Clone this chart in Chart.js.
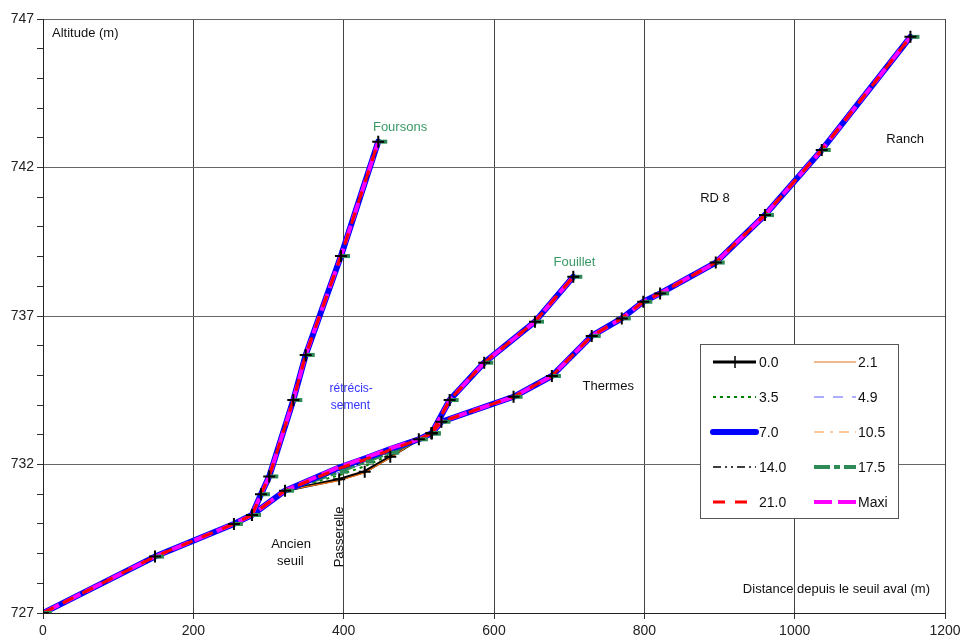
<!DOCTYPE html>
<html>
<head>
<meta charset="utf-8">
<script src="https://cdn.jsdelivr.net/npm/chart.js@4"></script>
<style>
  body { margin: 0; background: #fff; }
  canvas { display: block; }
</style>
</head>
<body>
<canvas id="profil" width="961" height="641"></canvas>
<script>
// Profil en long - niveaux d'eau pour differents debits
const flows = ['0.0', '2.1', '3.5', '4.9', '7.0', '10.5', '14.0', '17.5', '21.0', 'Maxi'];

// tronc commun (aval)
const trunkLowX = [0, 149, 254, 278, 322];
const trunkLowZ = [727, 728.9, 730.0, 730.3, 731.12];
// zone de la passerelle : seule partie ou les debits different
const passX = [394, 428, 462];
const pass00 = [731.5, 731.76, 732.26];
const pass21 = [731.46, 731.72, 732.23];
const pass35 = [731.64, 731.94, 732.33];
const pass49 = [731.74, 732.04, 732.4];
const pass70 = [731.9, 732.2, 732.52];
const pass105 = [731.82, 732.12, 732.45];
const pass140 = [731.79, 732.08, 732.42];
const pass175 = [731.76, 732.1, 732.4];
const pass210 = [731.87, 732.16, 732.49];
const passMaxi = [731.92, 732.22, 732.54];
const trunkUpX = [500, 517];
const trunkUpZ = [732.85, 733.05];

// branches amont
const foursonsX = [278, 290, 301, 333, 349.5, 396.4, 446];
const foursonsZ = [730.3, 731.0, 731.6, 734.17, 735.69, 739.02, 742.87];
const fouilletX = [517, 541, 587, 654.5, 705.5];
const fouilletZ = [733.05, 734.17, 735.43, 736.81, 738.32];
const thermesX = [517, 530, 626, 677, 730, 770, 798.6, 821, 895, 960.5, 1036, 1154];
const thermesZ = [733.05, 733.44, 734.28, 734.98, 736.33, 736.92, 737.48, 737.76, 738.8, 740.4, 742.59, 746.4];

const passBy = {
    '0.0': pass00, '2.1': pass21, '3.5': pass35, '4.9': pass49, '7.0': pass70,
    '10.5': pass105, '14.0': pass140, '17.5': pass175, '21.0': pass210, 'Maxi': passMaxi
};

const styles = {
    '0.0':  { color: '#000000', width: 3,   dash: [] },
    '2.1':  { color: '#e8701a', width: 1.2, dash: [] },
    '3.5':  { color: '#008000', width: 2,   dash: [3, 4] },
    '4.9':  { color: '#5a5aff', width: 1,   dash: [10, 9] },
    '7.0':  { color: '#0000ff', width: 6,   dash: [], cap: 'round' },
    '10.5': { color: '#ffc89a', width: 2,   dash: [10, 6, 3, 6] },
    '14.0': { color: '#000000', width: 1.5, dash: [8, 4, 2, 4, 2, 4] },
    '17.5': { color: '#2e8b57', width: 4,   dash: [16, 4, 6, 4] },
    '21.0': { color: '#ff0000', width: 3,   dash: [12, 10] },
    'Maxi': { color: '#ff00ff', width: 4,   dash: [18, 6] }
};

function branch(xs, zs) {
    return xs.map((x, i) => ({ x: x, y: zs[i] }));
}

function buildPath(flow) {
    const pts = [];
    const gap = () => pts.push({ x: pts[pts.length - 1].x, y: null });
    pts.push(...branch(trunkLowX, trunkLowZ));
    pts.push(...branch(passX, passBy[flow]));
    pts.push(...branch(trunkUpX, trunkUpZ));
    gap();
    pts.push(...branch(foursonsX, foursonsZ));
    gap();
    pts.push(...branch(fouilletX, fouilletZ));
    gap();
    pts.push(...branch(thermesX, thermesZ));
    return pts;
}

function lineSet(flow) {
    const s = styles[flow];
    return {
        label: flow,
        data: buildPath(flow),
        showLine: true,
        spanGaps: false,
        borderColor: s.color,
        backgroundColor: s.color,
        borderWidth: s.width,
        borderDash: s.dash,
        borderCapStyle: s.cap || 'butt',
        borderJoinStyle: 'round',
        pointRadius: 0,
        tension: 0
    };
}

// marqueur vert decale (serie 17.5)
const greenMark = document.createElement('canvas');
greenMark.width = 22;
greenMark.height = 8;
(function () {
    const g = greenMark.getContext('2d');
    g.fillStyle = '#2e8b57';
    g.fillRect(12, 2, 8, 4);
})();

// premier dataset = dessine au-dessus
const drawOrder = ['21.0', 'Maxi', '7.0', '17.5', '14.0', '10.5', '4.9', '3.5', '2.1', '0.0'];
const datasets = [
    {
        label: 'marks 0.0', data: buildPath('0.0'), showLine: false,
        pointStyle: 'cross', pointRadius: 6, borderColor: '#000', borderWidth: 2
    },
    {
        label: 'marks 17.5', data: buildPath('17.5'), showLine: false,
        pointStyle: greenMark, pointRadius: 4
    }
].concat(drawOrder.map(lineSet));

const notes = [
    { text: 'Foursons', x: 475, y: 743.35, color: '#3a9a66' },
    { text: 'Fouillet', x: 707, y: 738.8, color: '#3a9a66' },
    { text: 'Ranch', x: 1147, y: 742.95, color: '#111' },
    { text: 'RD 8', x: 894, y: 740.95, color: '#111' },
    { text: 'Thermes', x: 752, y: 734.63, color: '#111' },
    { text: 'rétrécis-', x: 410, y: 734.55, color: '#3333ff', size: 12 },
    { text: 'sement', x: 409, y: 733.98, color: '#3333ff', size: 12 },
    { text: 'Ancien', x: 330, y: 729.3, color: '#111' },
    { text: 'seuil', x: 329, y: 728.73, color: '#111' }
];

const decorPlugin = {
    id: 'decor',
    afterDraw(chart) {
        const ctx = chart.ctx;
        const xs = chart.scales.x, ys = chart.scales.y;
        const area = chart.chartArea;
        ctx.save();
        ctx.textBaseline = 'middle';

        // titres d'axes
        ctx.font = '13px "Liberation Sans", Arial, sans-serif';
        ctx.fillStyle = '#111';
        ctx.textAlign = 'left';
        ctx.fillText('Altitude (m)', area.left + 9, area.top + 14);
        ctx.textAlign = 'right';
        ctx.fillText('Distance depuis le seuil aval (m)', area.right - 15, area.bottom - 24);

        // etiquettes
        ctx.textAlign = 'center';
        notes.forEach(n => {
            ctx.font = (n.size || 13) + 'px "Liberation Sans", Arial, sans-serif';
            ctx.fillStyle = n.color;
            ctx.fillText(n.text, xs.getPixelForValue(n.x), ys.getPixelForValue(n.y));
        });

        // Passerelle (vertical)
        ctx.save();
        ctx.translate(xs.getPixelForValue(395), ys.getPixelForValue(729.56));
        ctx.rotate(-Math.PI / 2);
        ctx.font = '13px "Liberation Sans", Arial, sans-serif';
        ctx.fillStyle = '#111';
        ctx.fillText('Passerelle', 0, 0);
        ctx.restore();

        // legende
        const bx = 700.5, by = 344.5, bw = 198, bh = 174;
        ctx.fillStyle = '#fff';
        ctx.fillRect(bx, by, bw, bh);
        ctx.strokeStyle = '#555';
        ctx.lineWidth = 1;
        ctx.setLineDash([]);
        ctx.strokeRect(bx, by, bw, bh);

        ctx.font = '14px "Liberation Sans", Arial, sans-serif';
        ctx.textAlign = 'left';
        flows.forEach((f, i) => {
            const col = i % 2, row = Math.floor(i / 2);
            const y = 362 + row * 35;
            const x0 = col === 0 ? 713 : 814;
            const x1 = col === 0 ? 756 : 856;
            const s = styles[f];
            ctx.save();
            ctx.strokeStyle = s.color;
            ctx.lineWidth = s.width;
            ctx.setLineDash(s.dash);
            ctx.lineCap = s.cap || 'butt';
            ctx.beginPath();
            ctx.moveTo(x0, y);
            ctx.lineTo(x1, y);
            ctx.stroke();
            if (f === '0.0') {
                ctx.setLineDash([]);
                ctx.lineWidth = 1.5;
                ctx.beginPath();
                ctx.moveTo(735, y - 6);
                ctx.lineTo(735, y + 6);
                ctx.stroke();
            }
            ctx.restore();
            ctx.fillStyle = '#111';
            ctx.fillText(f, col === 0 ? 759 : 858, y + 1);
        });
        ctx.restore();
    }
};

new Chart(document.getElementById('profil').getContext('2d'), {
    type: 'scatter',
    data: { datasets: datasets },
    options: {
        responsive: false,
        animation: false,
        devicePixelRatio: 1,
        layout: { padding: { top: 19, right: 16, left: 0, bottom: 0 } },
        plugins: {
            legend: { display: false },
            tooltip: { enabled: false }
        },
        scales: {
            x: {
                type: 'linear',
                min: 0,
                max: 1200,
                ticks: {
                    stepSize: 200,
                    color: '#222',
                    padding: 4,
                    font: { family: '"Liberation Sans", Arial, sans-serif', size: 14 },
                    callback: v => String(v)
                },
                grid: { color: '#444', tickColor: '#333', tickLength: 6, lineWidth: 1 },
                border: { color: '#222', width: 1 },
                afterFit: scale => {
                    scale.height = 28;
                    scale.paddingLeft = 0;
                    scale.paddingRight = 0;
                }
            },
            y: {
                min: 727,
                max: 747,
                ticks: {
                    stepSize: 1,
                    color: '#222',
                    padding: 3,
                    autoSkip: false,
                    font: { family: '"Liberation Sans", Arial, sans-serif', size: 14 },
                    callback: v => ((v - 727) % 5 === 0 ? String(v) : '')
                },
                grid: {
                    color: c => (c.tick && (c.tick.value - 727) % 5 === 0 ? '#666' : 'rgba(0,0,0,0)'),
                    tickColor: '#333',
                    tickLength: 6,
                    lineWidth: 1
                },
                border: { color: '#222', width: 1 },
                afterFit: scale => { scale.width = 43; }
            }
        }
    },
    plugins: [decorPlugin]
});
</script>
</body>
</html>
